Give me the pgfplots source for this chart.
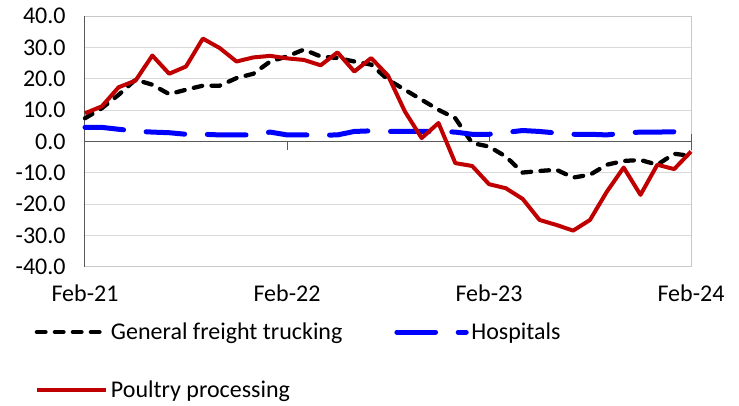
\documentclass[border=0pt]{standalone}
\usepackage{fontspec}
\setmainfont{Carlito}
\usepackage{pgfplots}
\pgfplotsset{compat=1.18}
\definecolor{redline}{RGB}{192,0,0}
\definecolor{blueline}{RGB}{0,0,255}
\definecolor{gridgray}{RGB}{217,217,217}
\definecolor{framegray}{RGB}{200,200,200}
\definecolor{axgray}{RGB}{89,89,89}
\begin{document}
\begin{tikzpicture}
\begin{axis}[
  scale only axis, width=454.5pt, height=188.25pt,
  xmin=0, xmax=36, ymin=-40, ymax=40,
  xtick={0,12,24,36}, xticklabels={Feb-21,Feb-22,Feb-23,Feb-24},
  ytick={-40,-30,...,40},
  /pgf/number format/fixed, /pgf/number format/fixed zerofill,
  /pgf/number format/precision=1, /pgf/number format/assume math mode=true,
  ymajorgrids, grid style={gridgray, line width=0.75pt},
  axis line style={draw=framegray, line width=0.75pt},
  major tick length=0pt,
  tick label style={font=\fontsize{18}{21.6}\selectfont},
  yticklabel style={xshift=-11pt},
  xticklabel style={yshift=-10pt},
  clip=false,
  legend columns=2,
  legend style={draw=none, fill=none, font=\fontsize{18}{21.6}\selectfont,
    at={(-0.09,-0.20)}, anchor=north west, row sep=25.5pt,
    /tikz/every even column/.append style={column sep=37pt}},
  legend cell align=left,
  legend image code/.code={\draw[#1] (0pt,0pt) -- (52pt,0pt);},
]
\draw[axgray, line width=0.75pt] (axis cs:0,0) -- (axis cs:36,0);
\draw[axgray, line width=0.75pt] (rel axis cs:0,0) -- (rel axis cs:0,1);
\draw[axgray, line width=0.75pt] (axis cs:12,0) -- ([yshift=-6pt]axis cs:12,0);
\draw[axgray, line width=0.75pt] (axis cs:24,0) -- ([yshift=6pt]axis cs:24,0);
\draw[axgray, line width=0.75pt] ([yshift=6pt]axis cs:36,0) -- ([yshift=-6pt]axis cs:36,0);
\addplot[black, line width=3.2pt, line cap=round, dash pattern=on 6.5pt off 7pt] coordinates {
(0,7.4)(1,10.6)(2,14.9)(3,19.7)(4,18.1)(5,15.1)(6,16.5)(7,17.8)(8,17.8)(9,20.2)(10,21.6)(11,25.5)(12,27.1)(13,29.3)(14,27.1)(15,26.6)(16,25.5)(17,24.5)(18,19.7)(19,16.5)(20,13.3)(21,10.1)(22,7.4)(23,-0.5)(24,-1.6)(25,-4.8)(26,-9.9)(27,-9.4)(28,-9.0)(29,-11.5)(30,-10.6)(31,-7.4)(32,-6.2)(33,-5.9)(34,-7.4)(35,-3.9)(36,-4.6)};
\addlegendentry{General freight trucking}
\addplot[blueline, line width=3.75pt, line cap=round, dash pattern=on 29pt off 17pt] coordinates {
(0,4.5)(1,4.5)(2,3.9)(3,3.3)(4,3.0)(5,2.8)(6,2.3)(7,2.3)(8,2.1)(9,2.1)(10,2.1)(11,3.0)(12,2.1)(13,2.1)(14,2.0)(15,2.1)(16,3.2)(17,3.4)(18,3.2)(19,3.2)(20,3.2)(21,3.2)(22,3.0)(23,2.3)(24,2.3)(25,2.9)(26,3.5)(27,3.2)(28,2.7)(29,2.3)(30,2.3)(31,2.1)(32,2.7)(33,3.0)(34,3.0)(35,3.1)(36,3.5)};
\addlegendentry{Hospitals}
\addplot[redline, line width=3pt, line join=round] coordinates {
(0,9.0)(1,11.2)(2,17.3)(3,19.4)(4,27.4)(5,21.6)(6,23.9)(7,32.8)(8,29.8)(9,25.5)(10,26.8)(11,27.3)(12,26.5)(13,26.0)(14,24.3)(15,28.4)(16,22.3)(17,26.6)(18,21.0)(19,9.6)(20,1.1)(21,5.9)(22,-6.9)(23,-7.8)(24,-13.6)(25,-14.9)(26,-18.3)(27,-25.0)(28,-26.6)(29,-28.4)(30,-25.0)(31,-16.0)(32,-8.3)(33,-17.0)(34,-7.4)(35,-8.8)(36,-3.2)};
\addlegendentry{Poultry processing}
\end{axis}
\pgfresetboundingbox
\path (current axis.south west) ++(-63.75pt,-104.25pt) coordinate (bl);
\path (current axis.north east) ++(36pt,12pt) coordinate (tr);
\path (bl) rectangle (tr);
\end{tikzpicture}
\end{document}
